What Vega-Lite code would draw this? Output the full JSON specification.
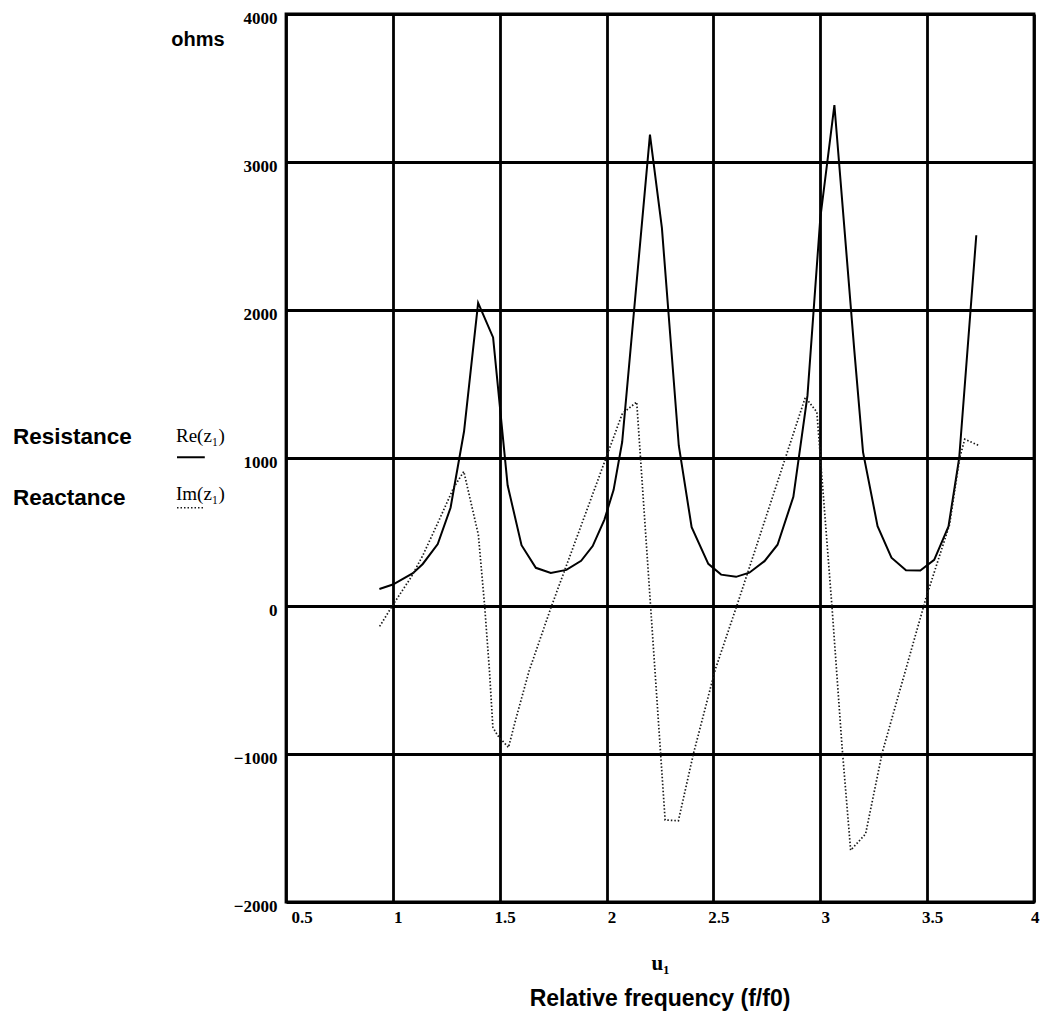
{
  "$schema": "https://vega.github.io/schema/vega-lite/v6.json",
  "width": 748,
  "height": 888,
  "autosize": {"type": "none"},
  "padding": {"left": 286, "top": 14, "right": 10, "bottom": 119},
  "background": "white",
  "title": {
    "text": "Relative frequency (f/f0)",
    "orient": "bottom",
    "anchor": "middle",
    "font": "Liberation Sans",
    "fontSize": 23,
    "fontWeight": "bold",
    "color": "black",
    "offset": 15
  },
  "config": {
    "view": {"stroke": "black", "strokeWidth": 2.8}
  },
  "datasets": {
    "re": [
      {"u": 0.937, "z": 115}, {"u": 1.0, "z": 145}, {"u": 1.094, "z": 222}, {"u": 1.14, "z": 284},
      {"u": 1.21, "z": 418}, {"u": 1.27, "z": 664}, {"u": 1.333, "z": 1179}, {"u": 1.399, "z": 2048},
      {"u": 1.469, "z": 1815}, {"u": 1.537, "z": 816}, {"u": 1.602, "z": 411}, {"u": 1.669, "z": 258},
      {"u": 1.739, "z": 223}, {"u": 1.812, "z": 244}, {"u": 1.881, "z": 305}, {"u": 1.935, "z": 405},
      {"u": 1.99, "z": 584}, {"u": 2.033, "z": 785}, {"u": 2.073, "z": 1108}, {"u": 2.203, "z": 3185},
      {"u": 2.259, "z": 2553}, {"u": 2.338, "z": 1083}, {"u": 2.398, "z": 532}, {"u": 2.476, "z": 285},
      {"u": 2.536, "z": 212}, {"u": 2.606, "z": 197}, {"u": 2.668, "z": 225}, {"u": 2.739, "z": 303},
      {"u": 2.8, "z": 414}, {"u": 2.874, "z": 738}, {"u": 2.94, "z": 1421}, {"u": 3.0, "z": 2620},
      {"u": 3.066, "z": 3385}, {"u": 3.159, "z": 1731}, {"u": 3.2, "z": 1040}, {"u": 3.268, "z": 540},
      {"u": 3.333, "z": 326}, {"u": 3.401, "z": 242}, {"u": 3.468, "z": 240}, {"u": 3.533, "z": 312},
      {"u": 3.6, "z": 538}, {"u": 3.65, "z": 1000}, {"u": 3.73, "z": 2505}
    ],
    "im": [
      {"u": 0.938, "z": -138}, {"u": 1.0, "z": 7}, {"u": 1.086, "z": 196}, {"u": 1.14, "z": 341},
      {"u": 1.21, "z": 560}, {"u": 1.284, "z": 798}, {"u": 1.332, "z": 909}, {"u": 1.4, "z": 482},
      {"u": 1.429, "z": 10}, {"u": 1.452, "z": -438}, {"u": 1.468, "z": -820}, {"u": 1.491, "z": -876},
      {"u": 1.541, "z": -956}, {"u": 1.573, "z": -777}, {"u": 1.637, "z": -441}, {"u": 1.741, "z": -6},
      {"u": 2.074, "z": 1301}, {"u": 2.141, "z": 1378}, {"u": 2.274, "z": -1446}, {"u": 2.336, "z": -1451},
      {"u": 2.407, "z": -995}, {"u": 2.508, "z": -432}, {"u": 2.609, "z": 0}, {"u": 2.93, "z": 1410},
      {"u": 2.984, "z": 1310}, {"u": 3.055, "z": -11}, {"u": 3.102, "z": -954}, {"u": 3.142, "z": -1650},
      {"u": 3.212, "z": -1540}, {"u": 3.29, "z": -990}, {"u": 3.495, "z": 56}, {"u": 3.605, "z": 550},
      {"u": 3.652, "z": 998}, {"u": 3.676, "z": 1127}, {"u": 3.747, "z": 1081}
    ]
  },
  "layer": [
    {
      "data": {"name": "re"},
      "mark": {"type": "line", "color": "black", "strokeWidth": 2},
      "encoding": {
        "x": {
          "field": "u", "type": "quantitative",
          "scale": {"domain": [0.5, 4], "nice": false, "zero": false},
          "axis": {
            "values": [0.5, 1, 1.5, 2, 2.5, 3, 3.5, 4],
            "format": "~g",
            "grid": true, "gridColor": "black", "gridWidth": 2.8, "gridOpacity": 1,
            "domain": false, "ticks": false,
            "labelFont": "Liberation Serif", "labelFontSize": 17, "labelFontWeight": "bold", "labelColor": "black",
            "labelPadding": 7, "labelFlush": true, "labelOffset": 5, "labelOverlap": false,
            "title": "u₁", "titleFont": "Liberation Serif", "titleFontSize": 21,
            "titleFontWeight": "bold", "titleColor": "black", "titlePadding": 27
          }
        },
        "y": {
          "field": "z", "type": "quantitative",
          "scale": {"domain": [-2000, 4000], "nice": false},
          "axis": {
            "values": [-2000, -1000, 0, 1000, 2000, 3000, 4000],
            "format": "d",
            "grid": true, "gridColor": "black", "gridWidth": 2.8, "gridOpacity": 1,
            "domain": false, "ticks": false,
            "labelFont": "Liberation Serif", "labelFontSize": 17, "labelFontWeight": "bold", "labelColor": "black",
            "labelPadding": 9, "labelOffset": 4, "labelFlush": false, "labelOverlap": false,
            "title": null
          }
        }
      }
    },
    {
      "data": {"name": "im"},
      "mark": {"type": "line", "color": "#1a1a1a", "strokeWidth": 1.7, "strokeDash": [1.5, 2]},
      "encoding": {
        "x": {"field": "u", "type": "quantitative"},
        "y": {"field": "z", "type": "quantitative"}
      }
    },
    {
      "data": {"values": [{"label": "ohms"}]},
      "mark": {"type": "text", "font": "Liberation Sans", "fontWeight": "bold", "fontSize": 20, "align": "center", "baseline": "middle", "dx": -88, "color": "black"},
      "encoding": {"x": {"datum": 0.5}, "y": {"datum": 3825}, "text": {"field": "label"}}
    },
    {
      "data": {"values": [{"label": "Resistance"}]},
      "mark": {"type": "text", "font": "Liberation Sans", "fontWeight": "bold", "fontSize": 22.5, "align": "left", "baseline": "alphabetic", "dx": -273, "color": "black"},
      "encoding": {"x": {"datum": 0.5}, "y": {"datum": 1095}, "text": {"field": "label"}}
    },
    {
      "data": {"values": [{"label": "Reactance"}]},
      "mark": {"type": "text", "font": "Liberation Sans", "fontWeight": "bold", "fontSize": 22.5, "align": "left", "baseline": "alphabetic", "dx": -273, "color": "black"},
      "encoding": {"x": {"datum": 0.5}, "y": {"datum": 682}, "text": {"field": "label"}}
    },
    {
      "data": {"values": [{"label": "Re(z₁)"}]},
      "mark": {"type": "text", "font": "Liberation Serif", "fontSize": 19, "align": "left", "baseline": "alphabetic", "dx": -110, "color": "black"},
      "encoding": {"x": {"datum": 0.5}, "y": {"datum": 1108}, "text": {"field": "label"}}
    },
    {
      "data": {"values": [{"label": "Im(z₁)"}]},
      "mark": {"type": "text", "font": "Liberation Serif", "fontSize": 19, "align": "left", "baseline": "alphabetic", "dx": -110, "color": "black"},
      "encoding": {"x": {"datum": 0.5}, "y": {"datum": 716}, "text": {"field": "label"}}
    },
    {
      "data": {"values": [{"sample": "Re"}]},
      "mark": {"type": "rule", "color": "black", "strokeWidth": 2},
      "encoding": {"x": {"datum": -0.01}, "x2": {"datum": 0.12}, "y": {"datum": 1005}}
    },
    {
      "data": {"values": [{"sample": "Im"}]},
      "mark": {"type": "rule", "color": "#1a1a1a", "strokeWidth": 1.5, "strokeDash": [1.5, 2]},
      "encoding": {"x": {"datum": -0.01}, "x2": {"datum": 0.12}, "y": {"datum": 664}}
    }
  ]
}
